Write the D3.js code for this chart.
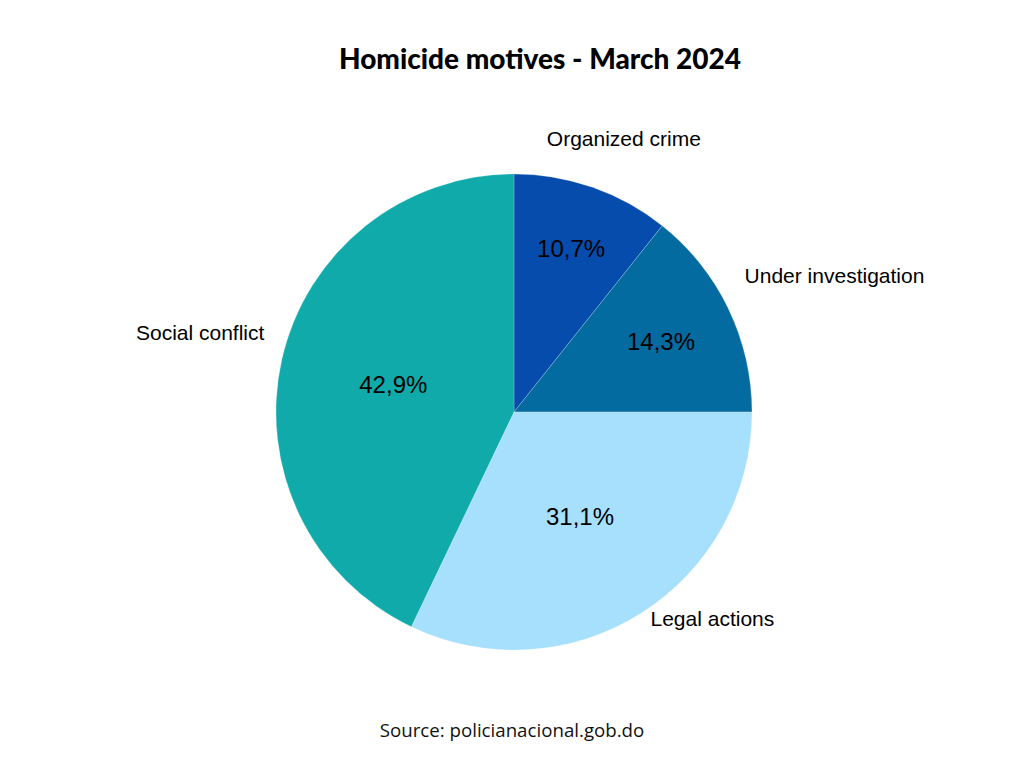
<!DOCTYPE html>
<html>
<head>
<meta charset="utf-8">
<script src="https://cdn.jsdelivr.net/npm/d3@7"></script>
<style>
  body { margin: 0; background: #fff; }
  svg { display: block; }
</style>
</head>
<body>
<div id="chart"></div>
<script>
// chart data
var categories = ["Organized crime", "Under investigation", "Legal actions", "Social conflict"];
// slice sizes as drawn (the legal actions slice spans ~32,1% even though its label says 31,1%)
var shares = [10.7, 14.3, 32.1, 42.9];
var valueLabels = ["10,7%", "14,3%", "31,1%", "42,9%"];
var colors = ["#054CAD", "#036BA0", "#A6E0FC", "#10AAAA"];

var width = 1024, height = 768;
var cx = 514, cy = 412, R = 238;

var svg = d3.select("#chart").append("svg")
    .attr("width", width)
    .attr("height", height);

// title
svg.append("text")
    .attr("x", 540).attr("y", 69)
    .attr("text-anchor", "middle")
    .style("font-family", "Lato, sans-serif")
    .style("font-weight", 900)
    .style("font-size", "28px")
    .style("fill", "#000")
    .text("Homicide motives - March 2024");

var pie = d3.pie().sort(null).value(function(d) { return d; });
var arcs = pie(shares);

var arc = d3.arc().innerRadius(0).outerRadius(R);

var g = svg.append("g").attr("transform", "translate(" + cx + "," + cy + ")");

g.selectAll("path.slice")
    .data(arcs)
    .enter().append("path")
    .attr("class", "slice")
    .attr("d", arc)
    .style("fill", function(d, i) { return colors[i]; })
    .style("stroke", "rgba(255,255,255,0.35)")
    .style("stroke-width", 0.6);

function midAngle(d) { return (d.startAngle + d.endAngle) / 2; }

// percent labels inside - small slices pushed outward a bit
g.selectAll("text.pct")
    .data(arcs)
    .enter().append("text")
    .attr("class", "pct")
    .attr("transform", function(d) {
        var frac = (d.endAngle - d.startAngle) / (2 * Math.PI);
        var r = R * Math.max(0.52, 0.85 - 1.15 * frac);
        var a = midAngle(d);
        return "translate(" + (r * Math.sin(a)) + "," + (-r * Math.cos(a)) + ")";
    })
    .attr("text-anchor", "middle")
    .attr("dy", "0.35em")
    .style("font-family", "'Liberation Sans', Arial, sans-serif")
    .style("font-size", "24px")
    .style("fill", "#000")
    .text(function(d, i) { return valueLabels[i]; });

// category labels outside
var labelR = R + 18, lineH = 24;
var cat = g.selectAll("text.cat")
    .data(arcs)
    .enter().append("text")
    .attr("class", "cat")
    .attr("dy", "0.35em")
    .style("font-family", "'Liberation Sans', Arial, sans-serif")
    .style("font-size", "21px")
    .style("fill", "#000")
    .text(function(d, i) { return categories[i]; });

cat.each(function(d) {
    var a = midAngle(d), s = Math.sin(a), c = Math.cos(a);
    var w = this.getComputedTextLength();
    var px = labelR * s, py = -labelR * c;
    var y = py - (lineH / 2) * c - 20;
    var el = d3.select(this).attr("y", y);
    if (Math.abs(s) < 0.4) {
        el.attr("text-anchor", "middle").attr("x", px + (w / 2) * s);
    } else {
        el.attr("text-anchor", s > 0 ? "start" : "end").attr("x", px);
    }
});

// source
svg.append("text")
    .attr("x", 512).attr("y", 737)
    .attr("text-anchor", "middle")
    .style("font-family", "'Open Sans', sans-serif")
    .style("font-size", "18.7px")
    .style("fill", "#111")
    .text("Source: policianacional.gob.do");
</script>
</body>
</html>
